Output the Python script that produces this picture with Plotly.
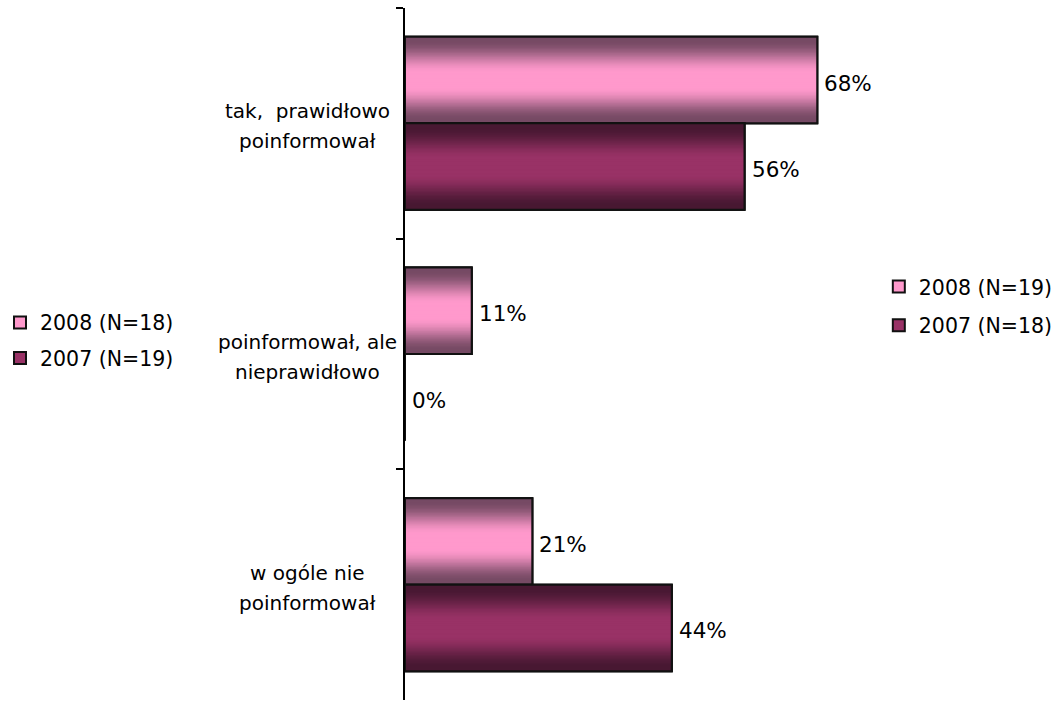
import numpy as np
import plotly.graph_objects as go

# --- data -------------------------------------------------------------
categories = [
    "tak,  prawidłowo poinformował",
    "poinformował, ale nieprawidłowo",
    "w ogóle nie poinformował",
]
category_lines = [
    ["tak,  prawidłowo", "poinformował"],
    ["poinformował, ale", "nieprawidłowo"],
    ["w ogóle nie", "poinformował"],
]
values_2008 = [68, 11, 21]
values_2007 = [56, 0, 44]
names_right = ["2008 (N=19)", "2007 (N=18)"]
names_left = ["2008 (N=18)", "2007 (N=19)"]

# --- style --------------------------------------------------------------
FONT = "DejaVu Sans"
BAR_W = 0.375            # width of one series' bar, in category units
N_STRIPS = 64            # strips used to paint the vertical shading
OUTLINE = "#111111"

series = [
    dict(values=values_2008, offset=-BAR_W, edge=(118, 74, 100), mid=(255, 153, 204)),
    dict(values=values_2007, offset=0.0, edge=(72, 24, 50), mid=(153, 50, 102)),
]


def shade(edge, mid, t):
    """Colour at relative position t (0..1) across the bar thickness."""
    d = min(t, 1 - t)
    r = np.clip((d - 0.04) / 0.38, 0, 1)
    r = r * r * (3 - 2 * r)
    c = [int(round(e + (m - e) * r)) for e, m in zip(edge, mid)]
    return f"rgb({c[0]},{c[1]},{c[2]})"


fig = go.Figure()

for i, s in enumerate(series):
    mid_col = "rgb({},{},{})".format(*s["mid"])
    # base bars, one per legend
    for leg, nm in (("legend", names_left[i]), ("legend2", names_right[i])):
        fig.add_trace(go.Bar(
            y=categories, x=s["values"], orientation="h",
            width=BAR_W, offset=s["offset"],
            marker=dict(color=mid_col, line=dict(color=OUTLINE, width=2)),
            name=nm, legend=leg, legendgroup=f"{leg}{i}",
            hoverinfo="skip",
        ))
    # shading strips
    step = BAR_W / N_STRIPS
    for k in range(N_STRIPS):
        start = k * step
        end = min((k + 1.8) * step, BAR_W)
        fig.add_trace(go.Bar(
            y=categories, x=s["values"], orientation="h",
            width=end - start, offset=s["offset"] + start,
            marker=dict(color=shade(s["edge"], s["mid"], (k + 0.5) / N_STRIPS),
                        line=dict(width=0)),
            showlegend=False, hoverinfo="skip",
        ))
    # outline on top
    fig.add_trace(go.Bar(
        y=categories, x=s["values"], orientation="h",
        width=BAR_W, offset=s["offset"],
        marker=dict(color="rgba(0,0,0,0)", line=dict(color=OUTLINE, width=2)),
        showlegend=False, hoverinfo="skip",
    ))

# value labels
annotations = []
for s in series:
    for j, v in enumerate(s["values"]):
        annotations.append(dict(
            x=v, y=j + s["offset"] + BAR_W / 2, xref="x", yref="y",
            text=f"{v}%", showarrow=False, xanchor="left", yanchor="middle",
            xshift=5, yshift=-3, font=dict(family=FONT, size=21.5, color="#000000"),
        ))

# category labels, centred lines
LINE_GAP = 30
for j, lines in enumerate(category_lines):
    n = len(lines)
    for li, line in enumerate(lines):
        annotations.append(dict(
            x=-0.202, y=j, xref="paper", yref="y",
            text=line, showarrow=False, xanchor="center", yanchor="middle",
            yshift=(n - 1) / 2 * LINE_GAP - li * LINE_GAP - 3,
            font=dict(family=FONT, size=20, color="#000000"),
        ))

fig.update_layout(
    width=1055, height=702, autosize=False,
    margin=dict(l=405, r=165, t=8, b=2, autoexpand=False),
    paper_bgcolor="white", plot_bgcolor="white",
    barmode="overlay",
    font=dict(family=FONT, size=20, color="#000000"),
    xaxis=dict(visible=False, range=[0, 80]),
    yaxis=dict(
        categoryorder="array", categoryarray=categories,
        autorange="reversed", showticklabels=False,
        showline=True, linecolor="#000000", linewidth=2,
        ticks="outside", ticklen=7, tickwidth=1.5, tickcolor="#000000",
        tickson="boundaries", showgrid=False, zeroline=False,
    ),
    legend=dict(
        xref="container", yref="container", x=0.0, y=0.569,
        xanchor="left", yanchor="top", tracegroupgap=6,
        font=dict(family=FONT, size=20.5), bgcolor="rgba(0,0,0,0)",
    ),
    legend2=dict(
        xref="container", yref="container", x=0.833, y=0.620,
        xanchor="left", yanchor="top", tracegroupgap=9,
        font=dict(family=FONT, size=20.5), bgcolor="rgba(0,0,0,0)",
    ),
    annotations=annotations,
    showlegend=True,
)

fig.write_html("out.html")
